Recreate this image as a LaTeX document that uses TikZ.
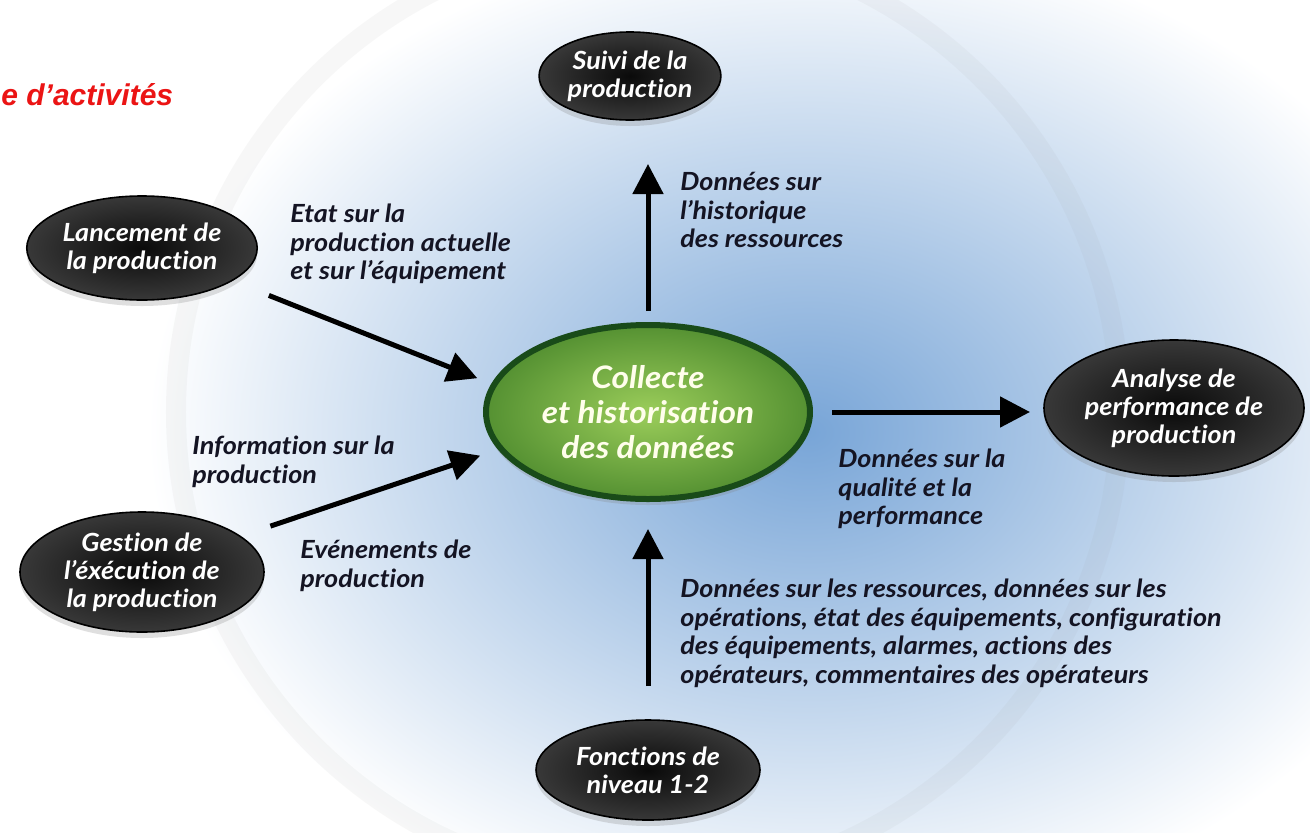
\documentclass[tikz,border=0pt]{standalone}
\usepackage{fontspec}
\setmainfont{Lato}[Ligatures={NoCommon,TeX}, FakeStretch=1.08]
\newfontfamily\titlefont{Liberation Sans}
\usetikzlibrary{shapes.geometric, arrows.meta, shadows}

\definecolor{bgblue}{RGB}{120,165,215}
\definecolor{nodegreen}{RGB}{155,205,90}
\definecolor{rimgreen}{RGB}{85,145,50}
\definecolor{edgegreen}{RGB}{25,75,25}
\definecolor{textdark}{RGB}{20,20,35}
\definecolor{titlered}{RGB}{235,20,20}

\tikzstyle{blackbox} = [ellipse, inner sep=1pt, outer sep=0pt, draw=black, line width=0.8pt, inner color=black!96, outer color=black!78, text=white, align=center, font=\bfseries\itshape\fontsize{12.5}{14}\selectfont, drop shadow={opacity=0.25, shadow xshift=0pt, shadow yshift=-3pt}]
\tikzstyle{greenbox} = [ellipse, minimum width=162pt, minimum height=87pt, inner sep=1pt, outer sep=0pt, draw=edgegreen, line width=3pt, inner color=nodegreen, outer color=rimgreen, text=white!92!yellow, align=center, font=\bfseries\itshape\fontsize{15.5}{17.5}\selectfont, drop shadow={opacity=0.25, shadow xshift=0pt, shadow yshift=-3pt}]
\tikzstyle{lbl} = [anchor=north west, inner sep=0pt, align=left, text=textdark, font=\bfseries\itshape\fontsize{12.5}{14.25}\selectfont]
\tikzstyle{arrow} = [line width=2.5pt, -{Triangle[length=15pt,width=15pt]}]

\begin{document}
\begin{tikzpicture}[x=1pt, y=1pt]
\useasboundingbox (-324,-210) rectangle (331,206);
% background
\begin{scope}
\clip (-324,-210) rectangle (331,206);
\fill[white] (-324,-210) rectangle (331,206);
\shade[inner color=bgblue, outer color=white] (80,-10) ellipse (330 and 250);
\draw[black!40, opacity=0.07, line width=10pt] (0,0) circle (236);
\end{scope}

% title
\node (titre) [anchor=base west, inner sep=0pt, text=titlered, font=\titlefont\bfseries\itshape\fontsize{15}{18}\selectfont] at (-323.5,153.5) {e d’activités};

% nodes
\node (collecte) [greenbox] at (0,0) {Collecte\\et historisation\\des données};
\node (suivi) [blackbox, node distance=168pt, above of=collecte, xshift=-9pt, minimum width=90pt, minimum height=44pt] {Suivi de la\\production};
\node (lancement) [blackbox, node distance=253pt, left of=collecte, yshift=82pt, minimum width=108pt, minimum height=52pt] {Lancement de\\la production};
\node (gestion) [blackbox, node distance=253pt, left of=collecte, yshift=-80pt, minimum width=122pt, minimum height=60pt] {Gestion de\\l'éxécution de\\la production};
\node (analyse) [blackbox, node distance=263pt, right of=collecte, yshift=2pt, minimum width=130pt, minimum height=68pt] {Analyse de\\performance de\\production};
\node (fonctions) [blackbox, node distance=179pt, below of=collecte, minimum width=112pt, minimum height=50pt] {Fonctions de\\niveau 1-2};

% labels
\node (histo) [lbl] at (16,120) {Données sur\\l'historique\\des ressources};
\node (etat) [lbl] at (-179,104) {Etat sur la\\production actuelle\\et sur l'équipement};
\node (info) [lbl] at (-228,-12) {Information sur la\\production};
\node (evts) [lbl] at (-174,-64) {Evénements de\\production};
\node (qualite) [lbl] at (95,-18.5) {Données sur la\\qualité et la\\performance};
\node (ressources) [lbl] at (16,-83.5) {Données sur les ressources, données sur les\\opérations, état des équipements, configuration\\des équipements, alarmes, actions des\\opérateurs, commentaires des opérateurs};

% arrows
\draw [arrow, shorten <=7pt, shorten >=22pt] (collecte.north) -- (collecte.north |- suivi.south);
\draw [arrow, shorten <=17pt, shorten >=15pt] (fonctions.north) -- (fonctions.north |- collecte.south);
\draw [arrow, shorten <=11pt, shorten >=7pt] (collecte.east) -- (collecte.east -| analyse.west);
\draw [arrow, shorten <=20pt, shorten >=9pt] (lancement.-20) -- (collecte.170);
\draw [arrow, shorten <=16pt, shorten >=11pt] (gestion.20) -- (collecte.194);
\end{tikzpicture}
\end{document}
